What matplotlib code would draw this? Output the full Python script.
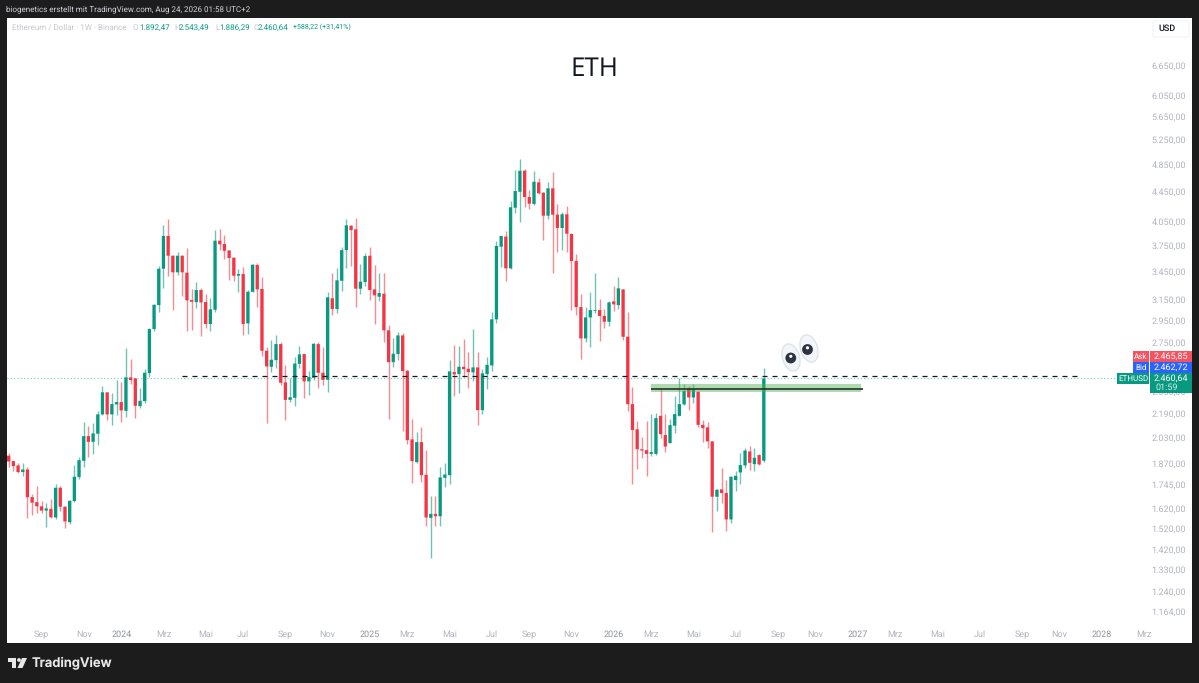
import matplotlib
matplotlib.use("Agg")
import matplotlib.pyplot as plt
from matplotlib.patches import Ellipse, Circle, Rectangle, Polygon, FancyBboxPatch
from matplotlib.ticker import NullLocator, NullFormatter
from matplotlib.transforms import ScaledTranslation
import numpy as np
import pandas as pd

plt.rcParams['font.family'] = ['Roboto', 'DejaVu Sans']
plt.rcParams['text.hinting'] = 'none'
plt.rcParams['text.hinting_factor'] = 1

first_week = "2023-07-17"

opens = [1923, 1890, 1864, 1825, 1840, 1685, 1658, 1636, 1614, 1623,
         1579, 1736, 1634, 1555, 1664, 1796, 1892, 2047, 2010, 2063,
         2194, 2354, 2194, 2265, 2282, 2219, 2469, 2461, 2253, 2289,
         2503, 2881, 3110, 3493, 3878, 3641, 3453, 3641, 3449, 3160,
         3140, 3263, 3140, 2928, 3064, 3820, 3780, 3703, 3618, 3416,
         3434, 2934, 3245, 3534, 3274, 2688, 2554, 2609, 2746, 2430,
         2298, 2313, 2578, 2660, 2438, 2466, 2746, 2506, 2450, 3178,
         3071, 3361, 3707, 4007, 3961, 3277, 3348, 3641, 3270, 3194,
         3225, 2869, 2592, 2660, 2823, 2522, 2026, 1884, 2008, 1809,
         1577, 1597, 1585, 1792, 1807, 2511, 2495, 2554, 2538, 2509,
         2549, 2224, 2495, 2565, 2972, 3747, 3870, 3497, 4244, 4466,
         4776, 4391, 4295, 4602, 4452, 4137, 4515, 4151, 3978, 4156,
         3902, 3580, 3090, 2796, 2990, 3054, 3061, 3004, 2949, 3147,
         3110, 3270, 2811, 2267, 2092, 1963, 1957, 1934, 1934, 2184,
         2054, 2002, 2116, 2184, 2265, 2384, 2316, 2358, 2122, 2105,
         2013, 1687, 1727, 1707, 1569, 1779, 1823, 1864, 1949, 1872,
         1927, 1892.47]
highs = [1937, 1890, 1876, 1876, 1856, 1700, 1747, 1665, 1655, 1673,
         1755, 1747, 1637, 1669, 1866, 1913, 2139, 2116, 2132, 2219,
         2404, 2354, 2346, 2446, 2435, 2714, 2615, 2461, 2389, 2538,
         2888, 3120, 3523, 4012, 4093, 3645, 3680, 3649, 3728, 3274,
         3351, 3281, 3219, 3178, 3948, 3965, 3890, 3707, 3629, 3486,
         3515, 3263, 3542, 3560, 3398, 2723, 2781, 2823, 2761, 2568,
         2466, 2632, 2732, 2660, 2520, 2757, 2761, 2723, 3245, 3442,
         3497, 3747, 4093, 4016, 4102, 3546, 3676, 3744, 3531, 3449,
         3442, 2919, 2799, 2854, 2842, 2525, 2161, 2074, 2105, 1957,
         1690, 1690, 1856, 1876, 2609, 2737, 2732, 2790, 2679, 2878,
         2679, 2533, 2632, 3039, 3820, 3878, 3943, 4335, 4787, 4953,
         4798, 4490, 4767, 4661, 4466, 4607, 4757, 4295, 4182, 4267,
         3911, 3657, 3219, 3093, 3239, 3442, 3170, 3068, 3153, 3306,
         3401, 3277, 3042, 2394, 2147, 2039, 2147, 2196, 2201, 2376,
         2196, 2161, 2326, 2461, 2419, 2404, 2415, 2364, 2152, 2139,
         2013, 1727, 1848, 1777, 1802, 1830, 1940, 1972, 1983, 1968,
         1931, 2543.49]
lows = [1856, 1832, 1817, 1802, 1577, 1590, 1604, 1602, 1532, 1577,
        1569, 1611, 1526, 1545, 1660, 1783, 1856, 1913, 1933, 1989,
        2190, 2154, 2118, 2189, 2143, 2173, 2417, 2168, 2236, 2272,
        2474, 2863, 3039, 3284, 3412, 3061, 3424, 3204, 2866, 2872,
        3077, 2820, 2888, 2866, 3045, 3707, 3603, 3369, 3358, 3245,
        2826, 2833, 3240, 3093, 2643, 2132, 2514, 2541, 2410, 2154,
        2279, 2255, 2546, 2313, 2331, 2448, 2389, 2410, 2358, 3013,
        3035, 3256, 3501, 3526, 3093, 3222, 3306, 3163, 2928, 3150,
        2761, 2161, 2554, 2609, 2080, 1993, 1764, 1876, 1769, 1537,
        1387, 1537, 1537, 1741, 1756, 2328, 2351, 2474, 2389, 2443,
        2120, 2196, 2381, 2522, 2934, 3515, 3361, 3490, 4169, 4058,
        4258, 4222, 4280, 4440, 3828, 4089, 3442, 3684, 3707, 3680,
        3061, 3013, 2618, 2766, 2723, 3035, 2775, 2893, 2912, 3054,
        3071, 2781, 2219, 1756, 1842, 1910, 1804, 1921, 1930, 2032,
        1943, 2000, 2069, 2182, 2262, 2226, 2272, 2105, 2010, 1968,
        1508, 1612, 1655, 1513, 1552, 1719, 1756, 1846, 1836, 1832,
        1864, 1886.29]
closes = [1888, 1860, 1825, 1840, 1684, 1655, 1636, 1614, 1625, 1580,
          1736, 1634, 1559, 1665, 1798, 1896, 2047, 2010, 2065, 2194,
          2354, 2194, 2267, 2282, 2222, 2469, 2448, 2255, 2291, 2506,
          2881, 3113, 3493, 3878, 3641, 3453, 3641, 3453, 3157, 3143,
          3263, 3137, 2928, 3068, 3820, 3776, 3699, 3614, 3416, 3434,
          2928, 3245, 3538, 3270, 2688, 2557, 2612, 2746, 2427, 2298,
          2318, 2581, 2657, 2438, 2472, 2749, 2506, 2450, 3188, 3071,
          3366, 3707, 4012, 3952, 3277, 3351, 3637, 3263, 3208, 3232,
          2869, 2592, 2663, 2823, 2520, 2021, 1890, 2008, 1807, 1579,
          1597, 1585, 1794, 1811, 2517, 2493, 2554, 2535, 2511, 2549,
          2224, 2501, 2570, 2972, 3756, 3878, 3497, 4250, 4476, 4776,
          4391, 4299, 4611, 4443, 4137, 4515, 4151, 3978, 4156, 3906,
          3580, 3090, 2796, 2990, 3061, 3061, 3004, 2949, 3137, 3117,
          3281, 2811, 2267, 2087, 1963, 1955, 1934, 1945, 2168, 2060,
          1980, 2120, 2196, 2267, 2364, 2316, 2376, 2122, 2100, 2013,
          1687, 1725, 1707, 1569, 1798, 1804, 1866, 1955, 1880, 1910,
          1870, 2460.64]

price_ticks = [6650, 6050, 5650, 5250, 4850, 4450, 4050, 3750, 3450, 3150, 2950, 2750,
               2350, 2190, 2030, 1870, 1745, 1620, 1520, 1420, 1330, 1240, 1164]
price_labels = ["6.650,00", "6.050,00", "5.650,00", "5.250,00", "4.850,00", "4.450,00",
                "4.050,00", "3.750,00", "3.450,00", "3.150,00", "2.950,00", "2.750,00",
                "2.350,00", "2.190,00", "2.030,00", "1.870,00", "1.745,00",
                "1.620,00", "1.520,00", "1.420,00", "1.330,00", "1.240,00", "1.164,00"]

date_ticks = ["2023-09-04", "2023-11-06", "2024-01-01", "2024-03-04", "2024-05-06", "2024-07-01",
              "2024-09-02", "2024-11-04", "2025-01-06", "2025-03-03", "2025-05-05", "2025-07-07",
              "2025-09-01", "2025-11-03", "2026-01-05", "2026-03-02", "2026-05-04", "2026-07-06",
              "2026-09-07", "2026-11-02", "2027-01-04", "2027-03-01", "2027-05-03", "2027-07-05",
              "2027-09-06", "2027-11-01", "2028-01-03", "2028-03-06"]
date_labels = ["Sep", "Nov", "2024", "Mrz", "Mai", "Jul", "Sep", "Nov", "2025", "Mrz", "Mai", "Jul",
               "Sep", "Nov", "2026", "Mrz", "Mai", "Jul", "Sep", "Nov", "2027", "Mrz", "Mai", "Jul",
               "Sep", "Nov", "2028", "Mrz"]

last_price = 2460.64
resistance = 2483
zone_low, zone_mid, zone_high = 2356, 2381, 2415

GREEN = "#089981"
RED = "#f23645"
DARK = "#1c1c1c"

W, H = 1199, 683
fig = plt.figure(figsize=(W / 100, H / 100), dpi=100, facecolor=DARK)
ax = fig.add_axes([7 / W, (H - 643) / H, 1185 / W, 625 / H], facecolor="white")

x = np.arange(len(closes))
o, h, l, c = map(np.array, (opens, highs, lows, closes))
colors = [GREEN if cl >= op else RED for op, cl in zip(o, c)]

ax.vlines(x, l, h, colors=colors, linewidth=1.0, alpha=0.58, zorder=2)
bodies = ax.bar(x, np.maximum(np.abs(c - o), 1), bottom=np.minimum(o, c), width=0.7,
                color=colors, linewidth=0, zorder=3)
for b in bodies:
    b.set_snap(False)

week0 = pd.Timestamp(first_week)
week_of = lambda d: (pd.Timestamp(d) - week0).days / 7
week_ticks = [week_of(d) for d in date_ticks]

ax.axhline(last_price, color=GREEN, linewidth=0.8, linestyle=(0, (1, 2)), alpha=0.55, zorder=1)
ax.hlines(resistance, week_of("2024-04-01"), week_of("2027-11-29"), color="#131722",
          linewidth=0.9, linestyle=(0, (4, 4)), zorder=4)
ax.add_patch(Rectangle((week_of("2026-03-02"), zone_low), 44.8, zone_high - zone_low,
                       facecolor="#4caf50", alpha=0.45, linewidth=0, zorder=4))
ax.hlines(zone_mid, week_of("2026-03-02"), week_of("2026-03-02") + 45.2, color="#26332a",
          linewidth=1.2, zorder=4)

ax.set_yscale("log")
ax.set_xlim(-0.356, 252.3)
ax.set_ylim(1057.6, 7776)
ax.yaxis.set_minor_locator(NullLocator())
ax.yaxis.set_minor_formatter(NullFormatter())
ax.yaxis.tick_right()
ax.set_yticks(price_ticks)
ax.set_yticklabels(price_labels, ha="right", va="center", fontsize=6.6, color="#b2b5be")
ax.set_xticks(week_ticks)
ax.set_xticklabels(date_labels, fontsize=6.6, color="#b2b5be")
for lab, txt in zip(ax.get_xticklabels(), date_labels):
    if txt.startswith("20"):
        lab.set_color("#8f929b")
ax.tick_params(axis="y", length=0, pad=-4.3)
ax.tick_params(axis="x", length=0, pad=-9)
for lab in ax.get_yticklabels():
    lab.set_transform(lab.get_transform() + ScaledTranslation(0, 0.005, fig.dpi_scale_trans))
for s in ax.spines.values():
    s.set_visible(False)

# overlay in picture pixels for the chrome around the chart
over = fig.add_axes([0, 0, 1, 1], facecolor="none")
over.set_xlim(0, W)
over.set_ylim(H, 0)
over.axis("off")

over.text(6, 9, "biogenetics erstellt mit TradingView.com, Aug 24, 2026 01:58 UTC+2",
          color="#d1d4dc", fontsize=5.6, va="center")
over.text(594.5, 69, "ETH", color="#131722", fontsize=19, ha="center", va="center",
          family=["Open Sans", "DejaVu Sans"])

over.text(12, 27.5, "Ethereum / Dollar · 1W · Binance", color="#c4c6cc", fontsize=5.85, va="center")
for px, txt, col, fs in [(133, "O", "#c4c6cc", 5.8), (139, "1.892,47", GREEN, 6),
                         (174, "H", "#c4c6cc", 5.8), (179, "2.543,49", GREEN, 6),
                         (215, "L", "#c4c6cc", 5.8), (219, "1.886,29", GREEN, 6),
                         (254, "C", "#c4c6cc", 5.8), (258, "2.460,64", GREEN, 6),
                         (293, "+588,22 (+31,41%)", GREEN, 5.4)]:
    over.text(px, 27.5, txt, color=col, fontsize=fs, va="center")

# USD button
over.add_patch(FancyBboxPatch((1153, 21), 36, 16, boxstyle="round,pad=0,rounding_size=2",
                              facecolor="white", edgecolor="#f0f3fa", linewidth=0.8))
over.text(1158, 28.5, "USD", color="#131722", fontsize=6.2, va="center", fontweight="medium")

# price tags on the right
tags = [(1133, 351, 16, 11, "Ask", "#f7525f"), (1133, 362, 16, 11, "Bid", "#2962ff"),
        (1117, 373, 32, 11, "ETHUSD", GREEN)]
for tx, ty, tw, th, txt, col in tags:
    over.add_patch(Rectangle((tx, ty), tw, th, facecolor=col, linewidth=0))
    over.text(tx + tw / 2, ty + th / 2, txt, color="white", fontsize=6.0, ha="center", va="center")
over.add_patch(Rectangle((1150, 351), 42, 11, facecolor="#f7525f", linewidth=0))
over.add_patch(Rectangle((1150, 362), 42, 11, facecolor="#2962ff", linewidth=0))
over.add_patch(Rectangle((1150, 373), 42, 20, facecolor=GREEN, linewidth=0))
over.text(1171, 356.5, "2.465,85", color="white", fontsize=6.4, ha="center", va="center")
over.text(1171, 367.5, "2.462,72", color="white", fontsize=6.4, ha="center", va="center")
over.text(1171, 378.5, "2.460,64", color="white", fontsize=6.4, ha="center", va="center")
over.text(1155, 387.5, "01:59", color="#d5efe9", fontsize=6.2, ha="left", va="center")

# eyes emoji
for ex, ey, px, py in [(791, 357.5, 790.8, 358), (809, 348.5, 807.5, 349.5)]:
    over.add_patch(Ellipse((ex, ey), 17, 28, angle=-17, facecolor="#f2f5f9",
                           edgecolor="#dde4ec", linewidth=1))
    over.add_patch(Circle((px, py), 5.4, facecolor="#2b3440", linewidth=0))
    over.add_patch(Circle((px, py - 1.7), 1.6, facecolor="white", linewidth=0))

# TradingView logo
over.add_patch(Polygon([(8, 658), (16, 658), (16, 668), (12, 668), (12, 662), (8, 662)],
                       facecolor="#e8e8e8", linewidth=0))
over.add_patch(Circle((19, 660), 1.9, facecolor="#e8e8e8", linewidth=0))
over.add_patch(Polygon([(22, 658), (27, 658), (22.5, 668), (17.5, 668)], facecolor="#e8e8e8", linewidth=0))
over.text(32, 663, "TradingView", color="#e8e8e8", fontsize=9.4, va="center", fontweight="semibold",
          family=["Inter", "DejaVu Sans"])

fig.savefig("out.png", dpi=100, facecolor=DARK)
